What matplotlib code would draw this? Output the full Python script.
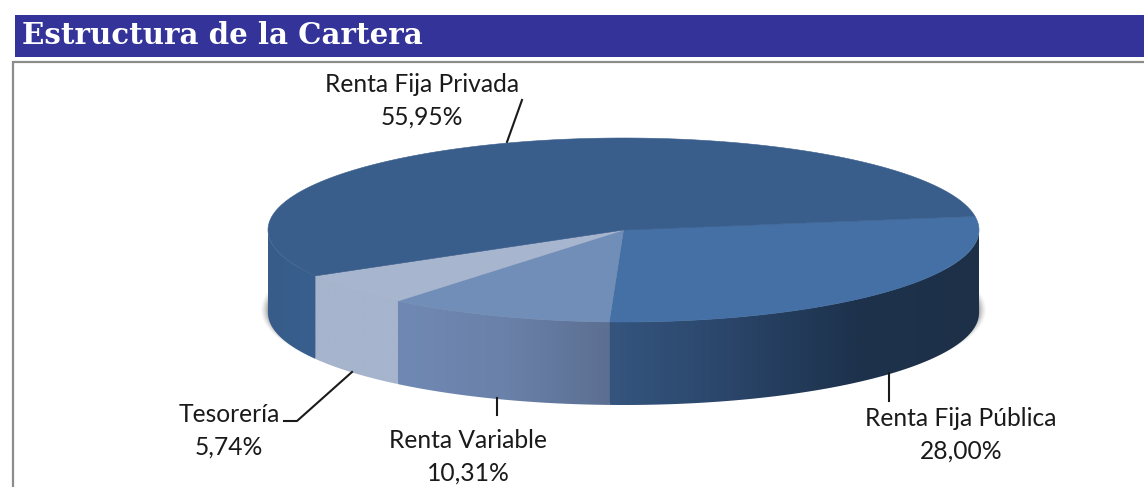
"""Portfolio structure shown as a 3D-looking pie."""

import matplotlib

matplotlib.use("Agg")

import matplotlib.pyplot as plt
import numpy as np
from matplotlib.colors import LinearSegmentedColormap
from matplotlib.patches import Ellipse, Polygon, Rectangle

TITLE = "Estructura de la Cartera"
CATEGORIES = ["Renta Fija Pública", "Renta Variable", "Tesorería", "Renta Fija Privada"]
SHARES = [28.00, 10.31, 5.74, 55.95]
VALUE_LABELS = ["28,00%", "10,31%", "5,74%", "55,95%"]

TOP_COLORS = ["#4470a5", "#718eb9", "#a7b5ce", "#3a5e8c"]
WALL_COLORS = [
    ["#35557f", "#2a4569", "#1d324c", "#1d3048"],
    ["#7089b4", "#6a81a9", "#5c6f92"],
    ["#a6b4cd", "#a6b4cd"],
    ["#385c8a", "#375f8e"],
]

# label anchor (centre x, first line y) and leader line, in picture pixels
LABEL_XY = [(961, 419), (468, 441), (229, 415), (422, 85)]
LEADERS = [
    [(889, 373), (889, 401)],
    [(497, 398), (497, 415)],
    [(352, 372), (297, 421), (284, 421)],
    [(507, 142), (522, 100)],
]

W, H = 1144, 487
CX, CY, RX, RY = 623.5, 230.0, 355.5, 92.0
DEPTH = 83.0
START_DEG = 8.5


def rim(theta_deg, drop=0.0):
    theta = np.radians(theta_deg)
    return np.column_stack([CX + RX * np.cos(theta), CY + drop - RY * np.sin(theta)])


fig = plt.figure(figsize=(W / 100, H / 100), dpi=100)
ax = fig.add_axes([0, 0, 1, 1])

# header and frame
ax.add_patch(Rectangle((15, 15), W - 15, 42, color="#333399", lw=0))
ax.plot([13, 13, W], [H, 62, 62], color="#8c8c8c", lw=1.6, solid_joinstyle="miter")
ax.text(22, 36, TITLE, color="white", fontsize=21.1, fontweight="bold",
        family="DejaVu Serif", va="center", ha="left")

# soft shadow under the disc, mostly showing at the left and right ends
for grow, alpha in zip(np.arange(7, 0, -1.2), [0.04, 0.06, 0.08, 0.10, 0.14, 0.18]):
    ax.add_patch(Ellipse((CX, CY + 80), 2 * (RX + grow), 2 * (RY + grow * 0.1),
                         color="#555555", alpha=alpha, lw=0, zorder=1))

edges = START_DEG - np.cumsum([0] + SHARES) * 3.6

# side walls, only the front half of the rim is visible
for i in range(len(SHARES)):
    hi, lo = edges[i], edges[i + 1]
    hi, lo = min(hi, 0.0), max(lo, -180.0)
    if hi <= lo:
        continue
    arc = np.linspace(hi, lo, 120)
    outline = np.vstack([rim(arc), rim(arc[::-1], DEPTH)])
    patch = Polygon(outline, closed=True, fc="none", ec="none", zorder=2)
    ax.add_patch(patch)
    # left to right across the slice
    cmap = LinearSegmentedColormap.from_list(f"wall{i}", WALL_COLORS[i])
    xs = outline[:, 0]
    grad = np.linspace(0, 1, 256).reshape(1, -1)
    img = ax.imshow(grad, cmap=cmap, aspect="auto", zorder=2,
                    extent=(xs.min(), xs.max(), CY + RY + DEPTH + 5, CY - 5))
    img.set_clip_path(patch)

# top face
for i in range(len(SHARES)):
    arc = np.linspace(edges[i], edges[i + 1], 200)
    pts = np.vstack([[CX, CY], rim(arc)])
    ax.add_patch(Polygon(pts, closed=True, fc=TOP_COLORS[i], ec=TOP_COLORS[i], lw=0.4, zorder=3))

# labels and leader lines
for name, value, (x, y), leader in zip(CATEGORIES, VALUE_LABELS, LABEL_XY, LEADERS):
    ax.text(x, y, name, ha="center", va="center", fontsize=17.7, family="Lato", color="#1a1a1a")
    ax.text(x, y + 32, value, ha="center", va="center", fontsize=17.7, family="Lato", color="#1a1a1a")
    line = np.array(leader)
    ax.plot(line[:, 0], line[:, 1], color="#1a1a1a", lw=1.5)

ax.set_xlim(0, W)
ax.set_ylim(H, 0)
ax.axis("off")
fig.savefig("out.png", dpi=100)
